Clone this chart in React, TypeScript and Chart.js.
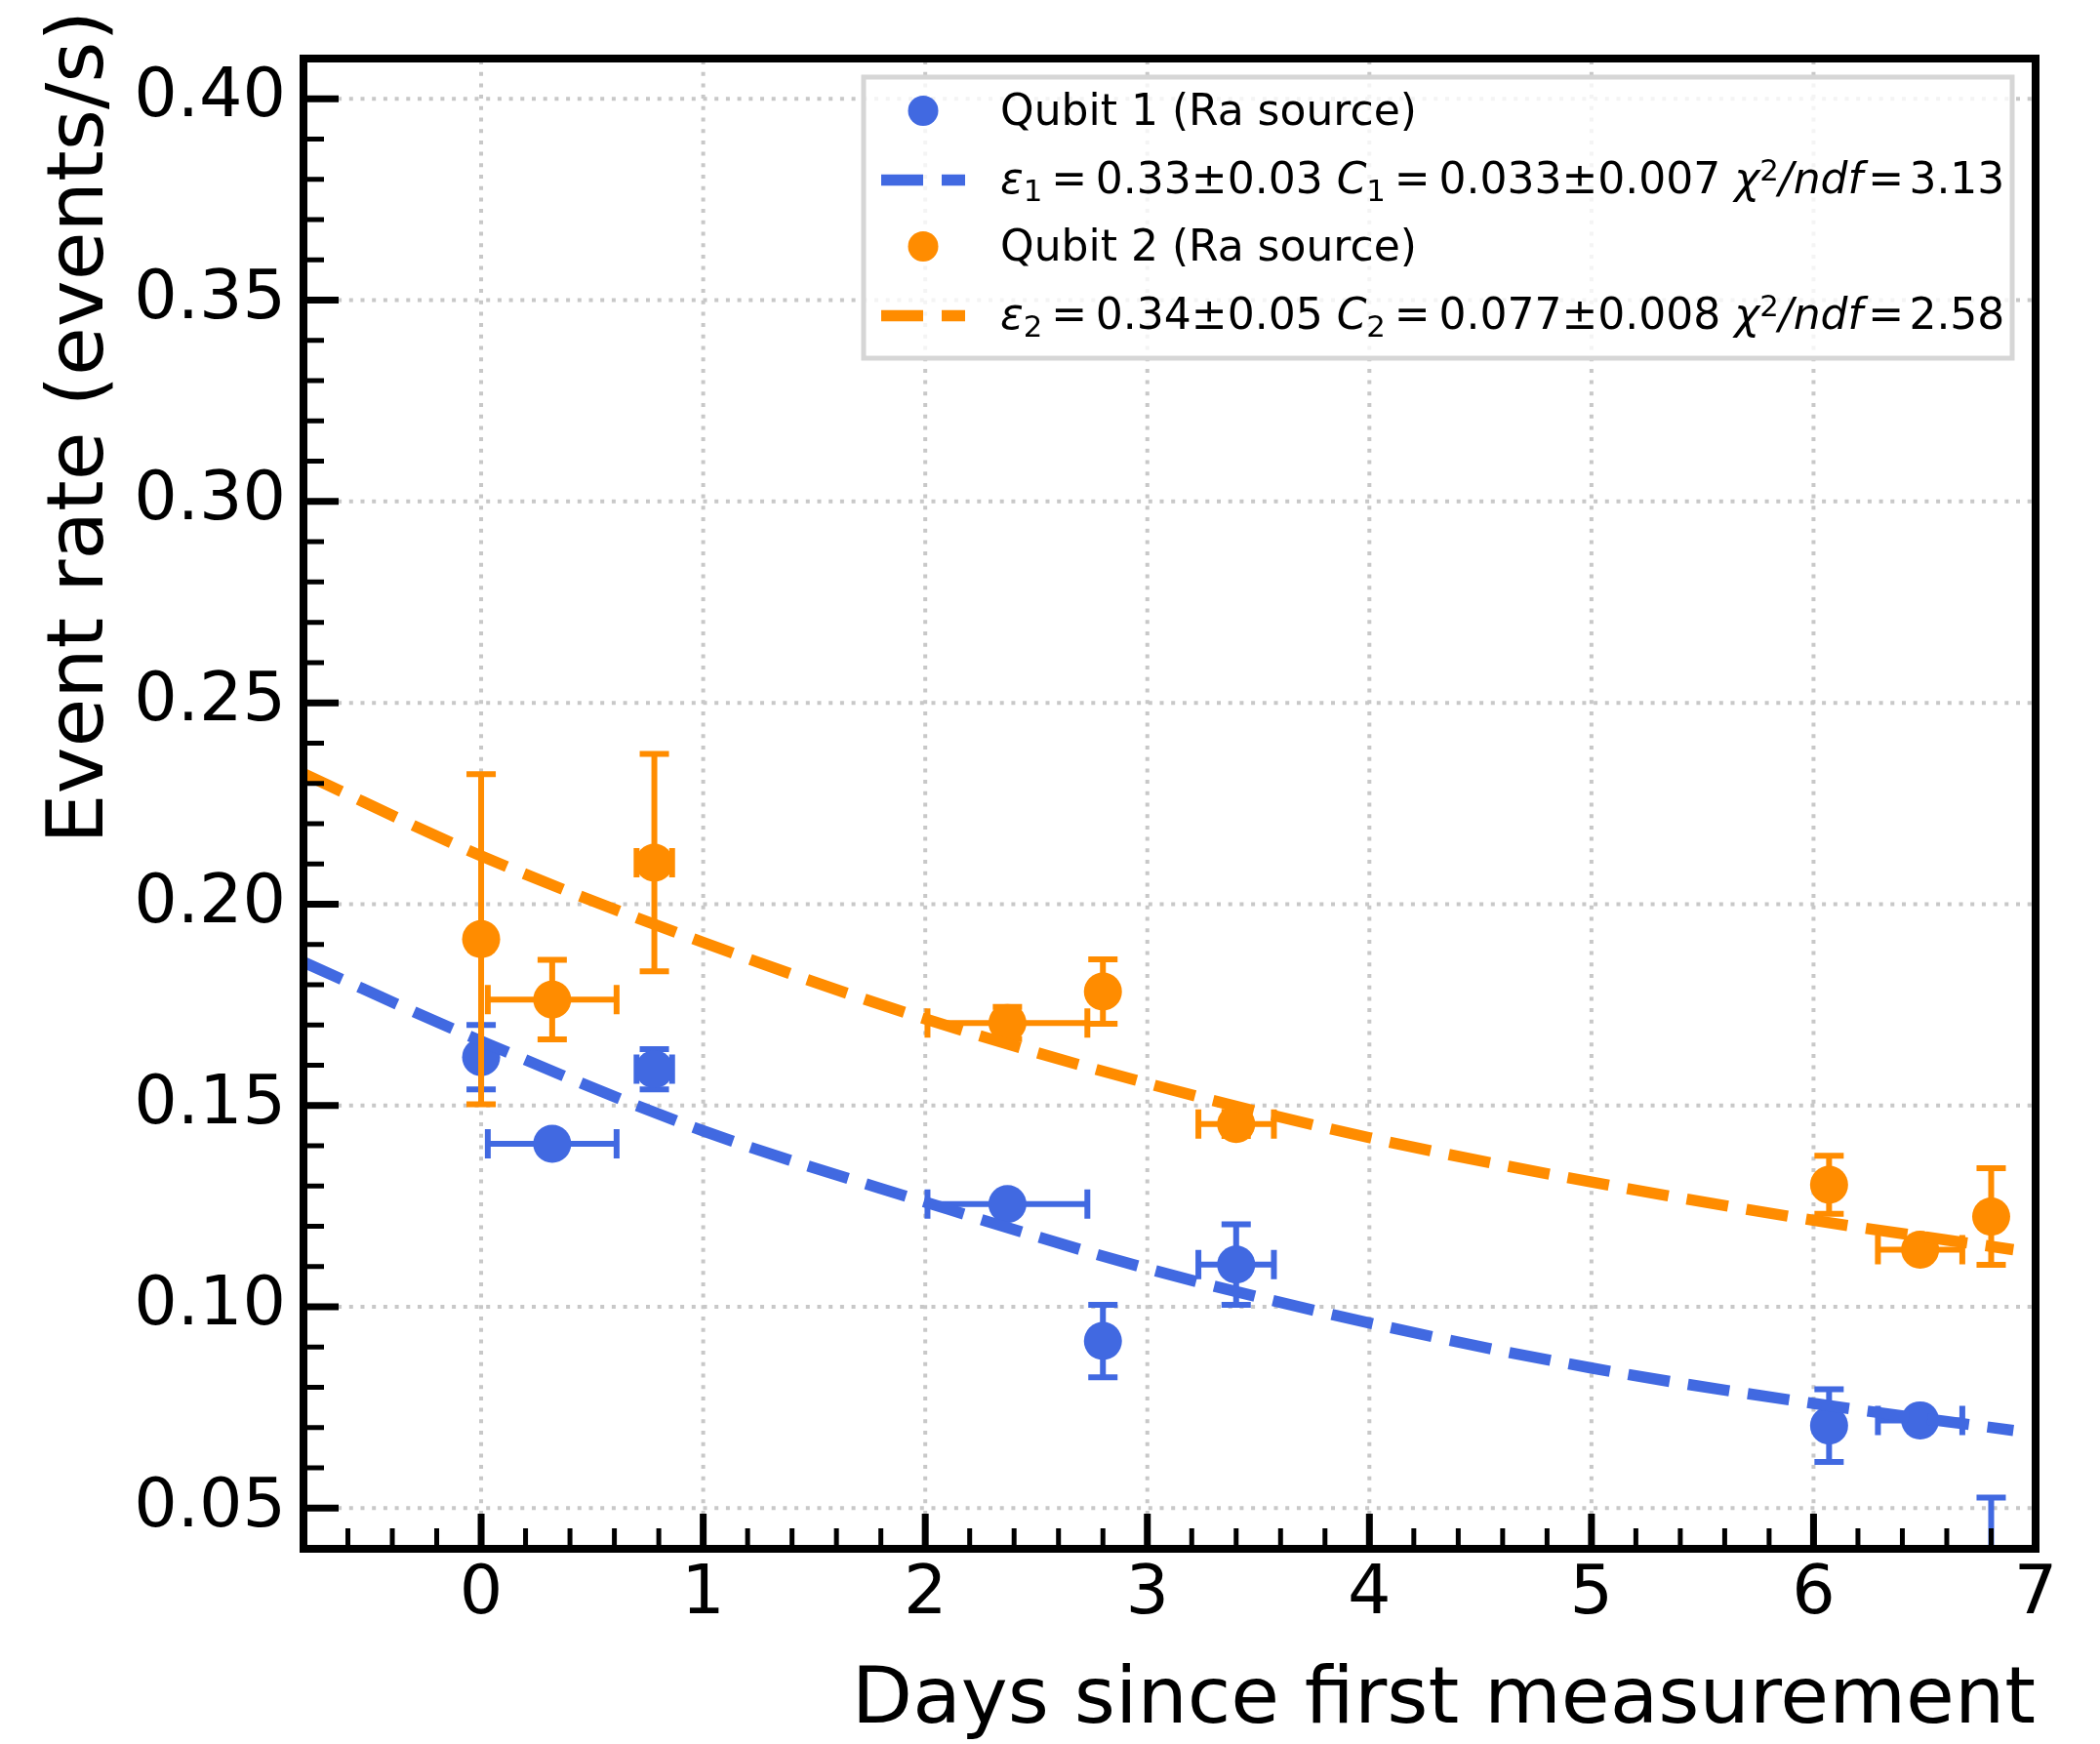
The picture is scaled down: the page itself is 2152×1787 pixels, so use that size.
import React, { useEffect, useRef } from "react";
import { Chart, registerables } from "chart.js";

Chart.register(...registerables);

const W = 2152;
const H = 1787;
const FONT = "'DejaVu Sans', 'Liberation Sans', sans-serif";
const BLUE = "#4169e1";
const ORANGE = "#ff8c00";

// ---- axes ----
const xRange = [-0.8, 7];
const yRange = [0.0399, 0.41];
const xTickValues = [0, 1, 2, 3, 4, 5, 6, 7];
const xTickLabels = ["0", "1", "2", "3", "4", "5", "6", "7"];
const yTickValues = [0.05, 0.1, 0.15, 0.2, 0.25, 0.3, 0.35, 0.4];
const yTickLabels = ["0.05", "0.10", "0.15", "0.20", "0.25", "0.30", "0.35", "0.40"];
const xMinorStep = 0.2;
const yMinorStep = 0.01;
const xTitle = "Days since first measurement";
const yTitle = "Event rate (events/s)";

// ---- Qubit 1 (Ra source) ----
const q1Days = [0, 0.32, 0.78, 2.37, 2.8, 3.4, 6.07, 6.48, 6.8];
const q1Rate = [0.162, 0.1405, 0.159, 0.1255, 0.0915, 0.1105, 0.0705, 0.0718, 0.032];
const q1DaysErr = [0, 0.29, 0.08, 0.36, 0, 0.17, 0, 0.19, 0];
const q1RateErr = [0.008, 0.002, 0.005, 0.002, 0.009, 0.01, 0.009, 0.002, 0.0206];

// ---- Qubit 2 (Ra source) ----
const q2Days = [0, 0.32, 0.78, 2.37, 2.8, 3.4, 6.07, 6.48, 6.8];
const q2Rate = [0.1913, 0.1763, 0.2103, 0.1705, 0.1783, 0.1454, 0.1303, 0.1142, 0.1224];
const q2DaysErr = [0, 0.29, 0.08, 0.36, 0, 0.17, 0, 0.19, 0];
const q2RateErr = [0.041, 0.0099, 0.027, 0.004, 0.008, 0.003, 0.0072, 0.002, 0.012];

// ---- fitted curves ----
const fitDays = [-0.8, 0, 1, 2, 3, 4, 5, 6, 6.9];
const fit1Rate = [0.1856, 0.166, 0.1437, 0.126, 0.1095, 0.096, 0.0848, 0.076, 0.0693];
const fit2Rate = [0.2324, 0.212, 0.1905, 0.1715, 0.1555, 0.142, 0.131, 0.1215, 0.1142];

// ---- legend texts ----
const legendQ1 = "Qubit 1 (Ra source)";
const legendQ2 = "Qubit 2 (Ra source)";
type Seg = { t: string; it?: boolean; sub?: boolean; sup?: boolean; pl?: number; pr?: number };
const legendFit1: Seg[] = [
  { t: "ε", it: true }, { t: "1", sub: true }, { t: "=", pl: 0.2, pr: 0.2 }, { t: "0.33±0.03 " },
  { t: "C", it: true }, { t: "1", sub: true }, { t: "=", pl: 0.2, pr: 0.2 }, { t: "0.033±0.007 " },
  { t: "χ", it: true }, { t: "2", sup: true }, { t: "/ndf", it: true }, { t: "=", pl: 0.12, pr: 0.12 }, { t: "3.13" },
];
const legendFit2: Seg[] = [
  { t: "ε", it: true }, { t: "2", sub: true }, { t: "=", pl: 0.2, pr: 0.2 }, { t: "0.34±0.05 " },
  { t: "C", it: true }, { t: "2", sub: true }, { t: "=", pl: 0.2, pr: 0.2 }, { t: "0.077±0.008 " },
  { t: "χ", it: true }, { t: "2", sup: true }, { t: "/ndf", it: true }, { t: "=", pl: 0.12, pr: 0.12 }, { t: "2.58" },
];

// ---- styling ----
const MARKER_R = 19.5;
const FIT_LW = 11.5;
const FIT_DASH = [43, 19];
const ERR_LW = 6;
const CAP = 15;
const SPINE_LW = 8;
const MAJOR_LEN = 36;
const MINOR_LEN = 21;
const MAJOR_LW = 7;
const MINOR_LW = 5;
const GRID_COLOR = "#c8c8c8";

const errSpecs: Record<number, { xe: number[]; ye: number[]; color: string }> = {
  0: { xe: q1DaysErr, ye: q1RateErr, color: BLUE },
  2: { xe: q2DaysErr, ye: q2RateErr, color: ORANGE },
};

function drawRich(ctx: CanvasRenderingContext2D, segs: Seg[], x: number, y: number, size: number) {
  ctx.textAlign = "left";
  ctx.textBaseline = "alphabetic";
  for (const s of segs) {
    const sz = s.sub || s.sup ? size * 0.7 : size;
    ctx.font = `${s.it ? "italic " : ""}${sz}px ${FONT}`;
    const dy = s.sub ? size * 0.18 : s.sup ? -size * 0.3 : 0;
    x += (s.pl || 0) * size;
    ctx.fillText(s.t, x, y + dy);
    x += ctx.measureText(s.t).width + (s.pr || 0) * size;
  }
}

function clipArea(ctx: CanvasRenderingContext2D, a: any) {
  ctx.beginPath();
  ctx.rect(a.left, a.top, a.right - a.left, a.bottom - a.top);
  ctx.clip();
}

const decorPlugin = {
  id: "decor",
  beforeDatasetsDraw(chart: any) {
    const { ctx, chartArea: a, scales } = chart;
    ctx.save();
    clipArea(ctx, a);
    ctx.strokeStyle = GRID_COLOR;
    ctx.lineWidth = 4;
    ctx.setLineDash([4, 7.7]);
    ctx.beginPath();
    for (const v of xTickValues) {
      const px = scales.x.getPixelForValue(v);
      ctx.moveTo(px, a.bottom);
      ctx.lineTo(px, a.top);
    }
    for (const v of yTickValues) {
      const py = scales.y.getPixelForValue(v);
      ctx.moveTo(a.left, py);
      ctx.lineTo(a.right, py);
    }
    ctx.stroke();
    ctx.restore();
  },
  beforeDatasetDraw(chart: any, args: any) {
    const spec = errSpecs[args.index];
    if (!spec) return;
    const { ctx, chartArea: a, scales } = chart;
    const data = chart.data.datasets[args.index].data as { x: number; y: number }[];
    ctx.save();
    clipArea(ctx, a);
    ctx.strokeStyle = spec.color;
    ctx.lineWidth = ERR_LW;
    ctx.lineCap = "butt";
    ctx.beginPath();
    data.forEach((p, i) => {
      const px = scales.x.getPixelForValue(p.x);
      const py = scales.y.getPixelForValue(p.y);
      const ye = spec.ye[i];
      const xe = spec.xe[i];
      if (ye > 0) {
        const y1 = scales.y.getPixelForValue(p.y + ye);
        const y2 = scales.y.getPixelForValue(p.y - ye);
        ctx.moveTo(px, y1); ctx.lineTo(px, y2);
        ctx.moveTo(px - CAP, y1); ctx.lineTo(px + CAP, y1);
        ctx.moveTo(px - CAP, y2); ctx.lineTo(px + CAP, y2);
      }
      if (xe > 0) {
        const x1 = scales.x.getPixelForValue(p.x - xe);
        const x2 = scales.x.getPixelForValue(p.x + xe);
        ctx.moveTo(x1, py); ctx.lineTo(x2, py);
        ctx.moveTo(x1, py - CAP); ctx.lineTo(x1, py + CAP);
        ctx.moveTo(x2, py - CAP); ctx.lineTo(x2, py + CAP);
      }
    });
    ctx.stroke();
    ctx.restore();
  },
  afterDatasetsDraw(chart: any) {
    const { ctx, chartArea: a, scales } = chart;
    ctx.save();
    ctx.strokeStyle = "#000";
    ctx.lineCap = "butt";
    // minor ticks
    ctx.lineWidth = MINOR_LW;
    ctx.beginPath();
    for (let k = Math.ceil(xRange[0] / xMinorStep - 1e-6); k * xMinorStep <= xRange[1] + 1e-9; k++) {
      const v = k * xMinorStep;
      if (Math.abs(v - Math.round(v)) < 1e-6) continue;
      const px = scales.x.getPixelForValue(v);
      ctx.moveTo(px, a.bottom); ctx.lineTo(px, a.bottom - MINOR_LEN);
    }
    for (let k = Math.ceil(yRange[0] / yMinorStep); k * yMinorStep <= yRange[1] + 1e-9; k++) {
      const v = k * yMinorStep;
      if (Math.abs(v / 0.05 - Math.round(v / 0.05)) < 1e-6) continue;
      const py = scales.y.getPixelForValue(v);
      ctx.moveTo(a.left, py); ctx.lineTo(a.left + MINOR_LEN, py);
    }
    ctx.stroke();
    // major ticks
    ctx.lineWidth = MAJOR_LW;
    ctx.beginPath();
    for (const v of xTickValues) {
      const px = scales.x.getPixelForValue(v);
      ctx.moveTo(px, a.bottom); ctx.lineTo(px, a.bottom - MAJOR_LEN);
    }
    for (const v of yTickValues) {
      const py = scales.y.getPixelForValue(v);
      ctx.moveTo(a.left, py); ctx.lineTo(a.left + MAJOR_LEN, py);
    }
    ctx.stroke();
    // spines
    ctx.lineWidth = SPINE_LW;
    ctx.lineJoin = "miter";
    ctx.strokeRect(a.left, a.top, a.right - a.left, a.bottom - a.top);
    ctx.restore();
  },
  afterDraw(chart: any) {
    const { ctx, chartArea: a } = chart;
    ctx.save();
    // axis titles
    ctx.fillStyle = "#000";
    ctx.font = `81px ${FONT}`;
    ctx.textBaseline = "alphabetic";
    ctx.textAlign = "right";
    ctx.fillText(xTitle, a.right, 1765);
    ctx.save();
    ctx.translate(105, 11);
    ctx.rotate(-Math.PI / 2);
    ctx.textAlign = "right";
    ctx.fillText(yTitle, 0, 0);
    ctx.restore();

    // legend
    const LX = 885, LY = 79, LW = 1177, LH = 288;
    ctx.fillStyle = "rgba(255,255,255,0.8)";
    ctx.fillRect(LX, LY, LW, LH);
    ctx.strokeStyle = "#d6d6d6";
    ctx.lineWidth = 5;
    ctx.strokeRect(LX, LY, LW, LH);
    const baselines = [128, 198, 267, 337];
    const markerX = 946, hx0 = 903, hx1 = 989, textX = 1025;
    const marker = (y: number, c: string) => {
      ctx.fillStyle = c;
      ctx.beginPath();
      ctx.arc(markerX, y, 15.5, 0, Math.PI * 2);
      ctx.fill();
    };
    const handle = (y: number, c: string) => {
      ctx.strokeStyle = c;
      ctx.lineWidth = FIT_LW;
      ctx.setLineDash(FIT_DASH);
      ctx.lineCap = "butt";
      ctx.beginPath();
      ctx.moveTo(hx0, y);
      ctx.lineTo(hx1, y);
      ctx.stroke();
      ctx.setLineDash([]);
    };
    marker(baselines[0] - 14.5, BLUE);
    handle(baselines[1] - 13.5, BLUE);
    marker(baselines[2] - 14.5, ORANGE);
    handle(baselines[3] - 13.5, ORANGE);
    ctx.fillStyle = "#000";
    ctx.font = `44px ${FONT}`;
    ctx.textAlign = "left";
    ctx.fillText(legendQ1, textX, baselines[0]);
    drawRich(ctx, legendFit1, textX, baselines[1], 44);
    ctx.font = `44px ${FONT}`;
    ctx.fillText(legendQ2, textX, baselines[2]);
    drawRich(ctx, legendFit2, textX, baselines[3], 44);
    ctx.restore();
  },
};

const toPts = (xs: number[], ys: number[]) => xs.map((x, i) => ({ x, y: ys[i] }));

export default function App() {
  const ref = useRef<HTMLCanvasElement>(null);
  useEffect(() => {
    document.body.style.margin = "0";
    const fitStyle = (c: string) => ({
      borderColor: c,
      backgroundColor: c,
      borderWidth: FIT_LW,
      borderDash: FIT_DASH,
      borderCapStyle: "butt" as const,
      showLine: true,
      pointRadius: 0,
      pointHoverRadius: 0,
      cubicInterpolationMode: "monotone" as const,
      fill: false,
    });
    const ptStyle = (c: string) => ({
      backgroundColor: c,
      borderColor: c,
      borderWidth: 0,
      pointRadius: MARKER_R,
      pointHoverRadius: MARKER_R,
      showLine: false,
    });
    const chart = new Chart(ref.current!, {
      type: "scatter",
      data: {
        datasets: [
          { label: legendQ1, data: toPts(q1Days, q1Rate), order: 4, ...ptStyle(BLUE) },
          { label: "fit 1", data: toPts(fitDays, fit1Rate), order: 3, ...fitStyle(BLUE) },
          { label: legendQ2, data: toPts(q2Days, q2Rate), order: 2, ...ptStyle(ORANGE) },
          { label: "fit 2", data: toPts(fitDays, fit2Rate), order: 1, ...fitStyle(ORANGE) },
        ] as any,
      },
      options: {
        animation: false,
        responsive: false,
        devicePixelRatio: 1,
        events: [],
        layout: { padding: { top: 56, right: 66, left: 0, bottom: 0 } },
        plugins: { legend: { display: false }, tooltip: { enabled: false } },
        scales: {
          x: {
            type: "linear",
            min: xRange[0],
            max: xRange[1],
            afterFit: (s: any) => { s.height = 200; },
            afterBuildTicks: (s: any) => { s.ticks = xTickValues.map((v) => ({ value: v })); },
            grid: { display: false, drawTicks: false },
            border: { display: false },
            ticks: {
              autoSkip: false,
              maxRotation: 0,
              minRotation: 0,
              padding: 6,
              color: "#000",
              font: { family: FONT, size: 70 },
              callback: (_v: any, i: number) => xTickLabels[i],
            },
          },
          y: {
            type: "linear",
            min: yRange[0],
            max: yRange[1],
            afterFit: (s: any) => { s.width = 311; },
            afterBuildTicks: (s: any) => { s.ticks = yTickValues.map((v) => ({ value: v })); },
            grid: { display: false, drawTicks: false },
            border: { display: false },
            ticks: {
              autoSkip: false,
              padding: 18,
              color: "#000",
              font: { family: FONT, size: 70 },
              callback: (_v: any, i: number) => yTickLabels[i],
            },
          },
        },
      } as any,
      plugins: [decorPlugin],
    });
    return () => chart.destroy();
  }, []);
  return (
    <canvas
      ref={ref}
      width={W}
      height={H}
      style={{ display: "block", width: W, height: H }}
    />
  );
}
